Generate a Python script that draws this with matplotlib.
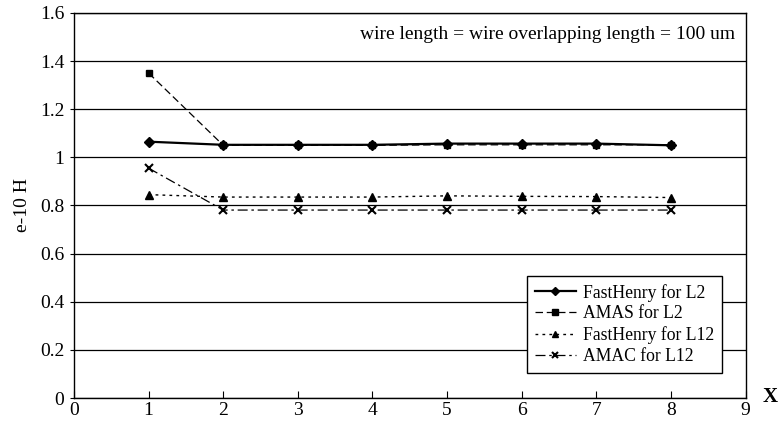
import matplotlib.pyplot as plt

plt.rcParams['font.family'] = ['Liberation Serif', 'DejaVu Serif']

# data
x = [1, 2, 3, 4, 5, 6, 7, 8]
fasthenry_l2 = [1.065, 1.052, 1.052, 1.052, 1.057, 1.057, 1.057, 1.050]
amas_l2 = [1.35, 1.050, 1.050, 1.050, 1.052, 1.052, 1.052, 1.052]
fasthenry_l12 = [0.845, 0.835, 0.835, 0.835, 0.840, 0.838, 0.837, 0.833]
amac_l12 = [0.955, 0.781, 0.781, 0.781, 0.781, 0.781, 0.781, 0.781]

fig = plt.figure(figsize=(7.79, 4.29), dpi=100)
ax = fig.add_axes([0.095, 0.072, 0.862, 0.898])

ax.plot(x, fasthenry_l2, color='black', lw=1.6, linestyle='-', marker='D', ms=5,
        label='FastHenry for L2')
ax.plot(x, amas_l2, color='black', lw=0.9, linestyle=(0, (6, 3)), marker='s', ms=5,
        label='AMAS for L2')
ax.plot(x, fasthenry_l12, color='black', lw=1.0, linestyle=(0, (2, 3)), marker='^', ms=6,
        label='FastHenry for L12')
ax.plot(x, amac_l12, color='black', lw=0.9, linestyle=(0, (8, 3, 2, 3)), marker='x', ms=6,
        mew=1.5, label='AMAC for L12')

ax.set_xlim(0, 9)
ax.set_ylim(0, 1.6)
ax.set_xticks(range(0, 10))
ax.set_yticks([0, 0.2, 0.4, 0.6, 0.8, 1.0, 1.2, 1.4, 1.6])
ax.set_yticklabels(['0', '0.2', '0.4', '0.6', '0.8', '1', '1.2', '1.4', '1.6'])
ax.yaxis.grid(True, color='black', lw=0.9)
ax.set_axisbelow(True)
ax.tick_params(axis='x', direction='in', length=5, labelsize=14, pad=3)
ax.tick_params(axis='y', direction='out', length=3, labelsize=14, pad=4)
for s in ax.spines.values():
    s.set_linewidth(1.0)

ax.set_ylabel('e-10 H', fontsize=14, labelpad=6)
fig.text(0.998, 0.075, 'X', fontsize=15, fontweight='bold', ha='right', va='center')

ax.text(0.985, 0.945, 'wire length = wire overlapping length = 100 um',
        transform=ax.transAxes, ha='right', va='center', fontsize=14)

leg = ax.legend(loc='lower right', bbox_to_anchor=(0.965, 0.065), fontsize=12.7,
                frameon=True, fancybox=False, edgecolor='black', framealpha=1,
                handlelength=2.3, handletextpad=0.4, labelspacing=0.22,
                borderpad=0.45, borderaxespad=0, markerscale=0.8)
leg.get_frame().set_linewidth(1.0)

fig.savefig('out.png', dpi=100)
